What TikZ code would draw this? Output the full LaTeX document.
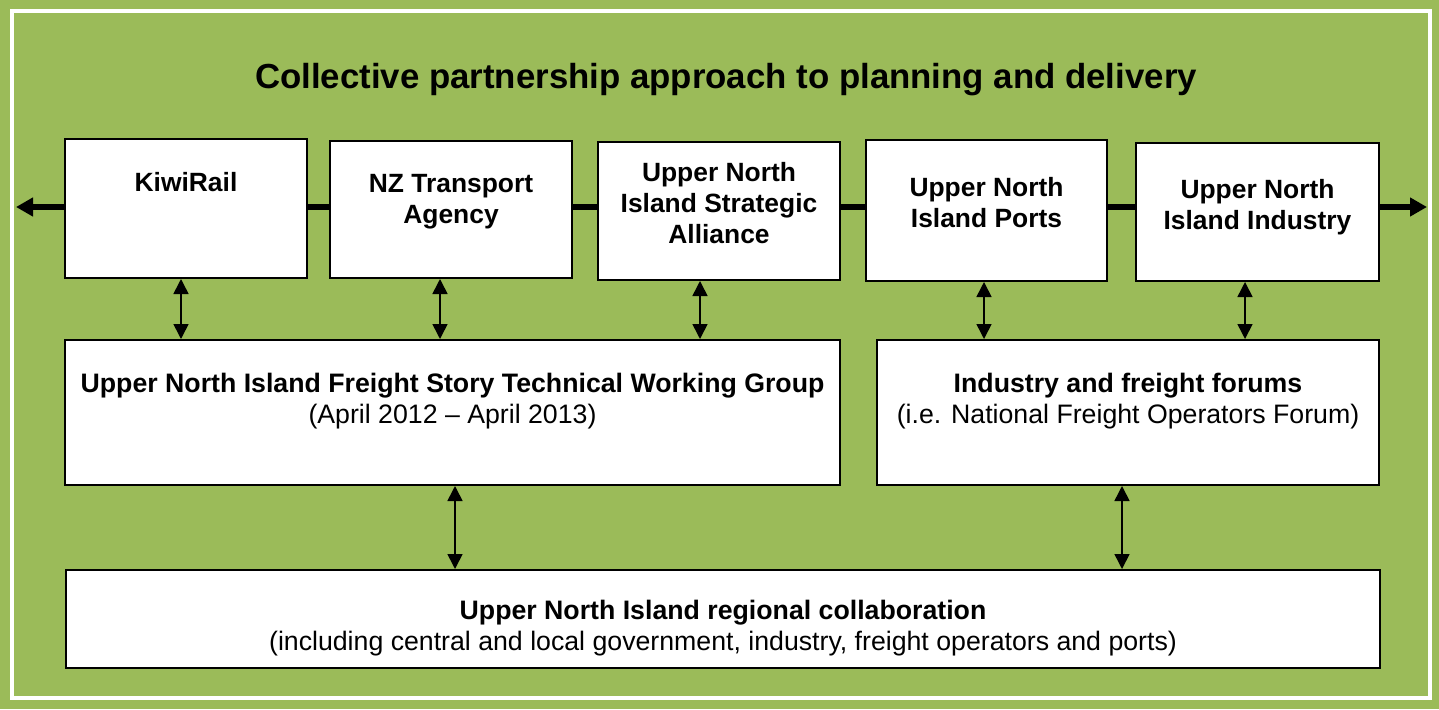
\documentclass[tikz,border=0pt]{standalone}
\usepackage{fontspec}
\setmainfont{Liberation Sans}
\usetikzlibrary{arrows.meta,positioning}
\definecolor{leaf}{RGB}{155,187,89}

\begin{document}
\begin{tikzpicture}[x=1pt,y=-1pt,
    box/.style={draw=black,line width=2pt,fill=white,inner sep=0pt},
    boxtext/.style={anchor=north,align=center,inner sep=0pt,
      font=\fontsize{26.4}{31}\selectfont\bfseries},
    grouptext/.style={boxtext,font=\fontsize{26.7}{31}\selectfont\bfseries},
    bus/.style={line width=6pt,{Triangle[length=17pt,width=18pt]}-{Triangle[length=17pt,width=18pt]}},
    link/.style={line width=1.6pt,{Triangle[length=15pt,width=15pt]}-{Triangle[length=15pt,width=15pt]}}]

   % green panel with white frame
   \fill[leaf] (0,0) rectangle (1439,709);
   \useasboundingbox (0,0) rectangle (1439,709);
   \draw[white,line width=4pt] (12,11) rectangle (1430,698);

   \node[inner sep=0pt,anchor=north,font=\fontsize{34.8}{40}\selectfont\bfseries] (title) at (726,63)
     {Collective partnership approach to planning and delivery};

   % partners line
   \coordinate (lend) at (16,207);
   \coordinate (rend) at (1427,207);
   \draw[bus] (lend) -- (rend);

   \node[box,minimum width=242,minimum height=139] (kiwi)  at (186,208.5) {};
   \node[box,minimum width=242,minimum height=137] (nzta)  at (451,209.5) {};
   \node[box,minimum width=242,minimum height=138] (unisa) at (719,211) {};
   \node[box,minimum width=241,minimum height=141] (ports) at (986.5,210.5) {};
   \node[box,minimum width=243,minimum height=138] (indus) at (1257.5,212) {};

   \node[boxtext] (kiwitxt)  at ([yshift=-34]kiwi.north)  {KiwiRail};
   \node[boxtext] (nztatxt)  at ([yshift=-34]nzta.north)  {NZ Transport\\Agency};
   \node[boxtext] (unisatxt) at ([yshift=-21]unisa.north) {Upper North\\Island Strategic\\Alliance};
   \node[boxtext] (portstxt) at ([yshift=-38]ports.north) {Upper North\\Island Ports};
   \node[boxtext] (industxt) at ([yshift=-37]indus.north) {Upper North\\Island Industry};

   % groups
   \node[box,minimum width=775,minimum height=145]  (twg)    at (452.5,412.5) {};
   \node[box,minimum width=502,minimum height=145]  (forum)  at (1128,412.5) {};
   \node[box,minimum width=1314,minimum height=98]  (collab) at (723,619) {};

   \node[grouptext] (twgtxt) at ([yshift=-34]twg.north)
     {Upper North Island Freight Story Technical Working Group\\\mdseries(April 2012 – April 2013)};
   \node[grouptext] (forumtxt) at ([yshift=-34]forum.north)
     {Industry and freight forums\\\mdseries(i.e. National Freight Operators Forum)};
   \node[grouptext] (collabtxt) at ([yshift=-31]collab.north)
     {Upper North Island regional collaboration\\\mdseries(including central and local government, industry, freight operators and ports)};

   % links
   \draw[link] ([xshift=-5]kiwi.south)   -- ([xshift=-5]kiwi.south |- twg.north);
   \draw[link] ([xshift=-11]nzta.south)  -- ([xshift=-11]nzta.south |- twg.north);
   \draw[link] ([xshift=-19]unisa.south) -- ([xshift=-19]unisa.south |- twg.north);
   \draw[link] ([xshift=-2.5]ports.south) -- ([xshift=-2.5]ports.south |- forum.north);
   \draw[link] ([xshift=-12.5]indus.south) -- ([xshift=-12.5]indus.south |- forum.north);
   \draw[link] ([xshift=2.5]twg.south) -- ([xshift=2.5]twg.south |- collab.north);
   \draw[link] ([xshift=-6]forum.south) -- ([xshift=-6]forum.south |- collab.north);

\end{tikzpicture}
\end{document}
